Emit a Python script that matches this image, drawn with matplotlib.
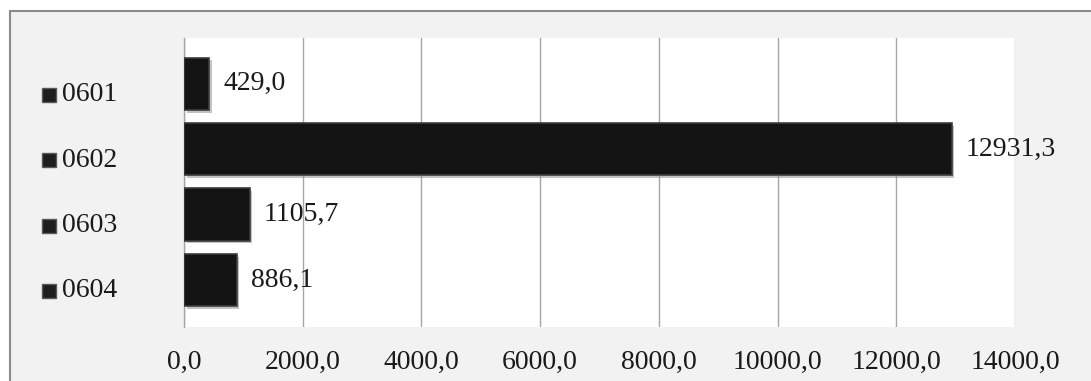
import matplotlib
matplotlib.use("Agg")
import matplotlib.pyplot as plt
import matplotlib.transforms as mtransforms
import matplotlib.patheffects as pe
from matplotlib.patches import Rectangle
from matplotlib.ticker import FuncFormatter, MultipleLocator

categories = ["0601", "0602", "0603", "0604"]
values = [429.0, 12931.3, 1105.7, 886.1]
x_max = 14000
x_step = 2000

W, H, DPI = 1091, 381, 100
fig = plt.figure(figsize=(W / DPI, H / DPI), dpi=DPI)
fig.patch.set_facecolor("white")

# outer chart border (extends past right and bottom edges)
fig.patches.append(Rectangle((10 / W, -0.05), 1.1, 1 - 11 / H + 0.05,
                             transform=fig.transFigure, facecolor="#f2f2f2",
                             edgecolor="#8c8c8c", linewidth=1.5, zorder=-10))

ax = fig.add_axes([184 / W, 1 - 327 / H, 831 / W, 289 / H])
ax.set_facecolor("white")
ypos = list(range(len(categories)))
bars = ax.barh(ypos, values, height=0.8, color="#141414", edgecolor="#3c3c3c",
               linewidth=1.2, zorder=3)
for b in bars:
    b.set_path_effects([pe.SimplePatchShadow(offset=(2, -2), shadow_rgbFace="#9a9a9a", alpha=0.6),
                        pe.Normal()])

ax.set_xlim(0, x_max)
ax.set_ylim(3.72, -0.70)
ax.xaxis.set_major_locator(MultipleLocator(x_step))
ax.xaxis.set_major_formatter(FuncFormatter(lambda v, p: f"{v:.1f}".replace(".", ",")))
ax.grid(axis="x", color="#a6a6a6", linewidth=1, zorder=0)
ax.set_axisbelow(True)
for s in ["top", "right", "bottom"]:
    ax.spines[s].set_visible(False)
ax.spines["left"].set_color("#a6a6a6")
ax.spines["left"].set_linewidth(1)
ax.tick_params(axis="both", length=0)
ax.tick_params(axis="x", pad=16.5)
ax.set_yticks([])
font = dict(family=["Liberation Serif", "DejaVu Serif"], size=20, color="#1a1a1a")
for lab in ax.get_xticklabels():
    lab.set_fontfamily(font["family"])
    lab.set_fontsize(font["size"])
    lab.set_color(font["color"])

# value labels
for y, v in zip(ypos, values):
    ax.annotate(f"{v:.1f}".replace(".", ","), (v, y), xytext=(14, 0),
                textcoords="offset pixels", va="center", ha="left", zorder=5, **font)

# legend-like category labels on the left
blend = mtransforms.blended_transform_factory(ax.transAxes, ax.transData)
off = mtransforms.ScaledTranslation(0, -11 / DPI, fig.dpi_scale_trans)
for y, c in zip(ypos, categories):
    ax.text((62 - 184) / 831, y, c, transform=blend + off, va="center", ha="left",
            clip_on=False, **font)
    ax.scatter([(48.5 - 184) / 831], [y], transform=blend + off, marker="s", s=110,
               color="#1e1e1e", edgecolors="#5a5a5a", linewidths=1, clip_on=False, zorder=5)

fig.savefig("out.png", dpi=DPI)
